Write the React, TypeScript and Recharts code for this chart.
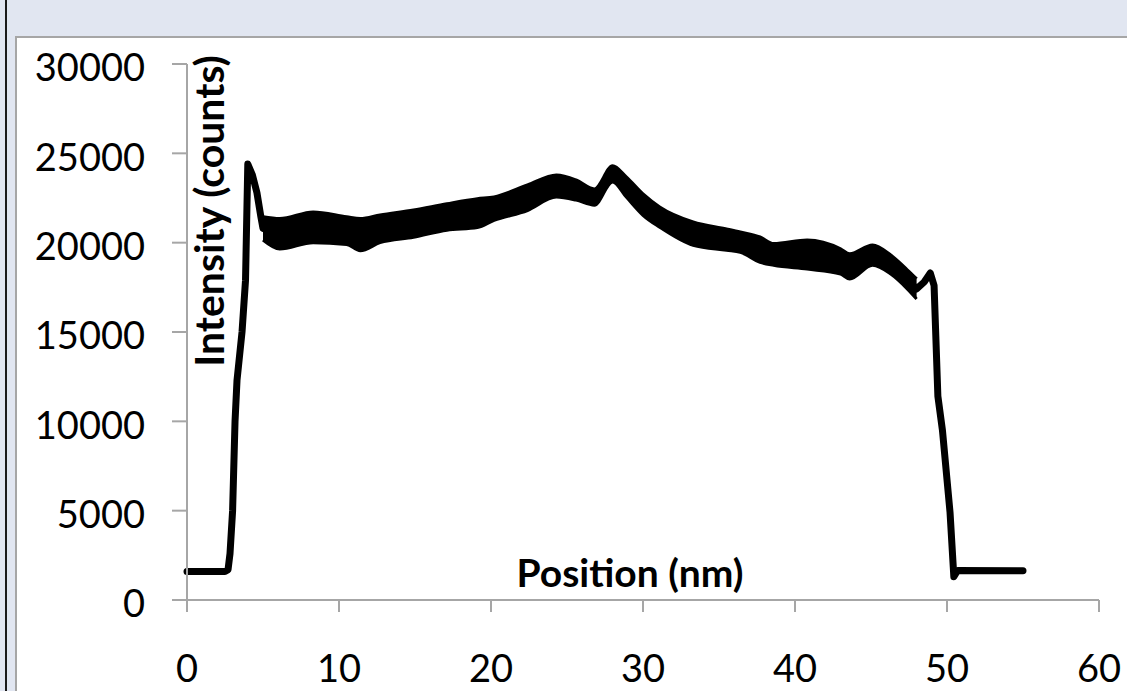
import React from 'react';
import { ComposedChart, Line, Area, XAxis, YAxis } from 'recharts';

// position (nm) of each sample
const positions = [
  0, 2.5, 2.7, 2.83, 3.0, 3.16, 3.29, 3.62, 3.85, 4.0, 4.3, 4.6, 4.85,
  5.0, 6.1, 8.3, 10.5, 11.4, 12.7, 14.9, 17.1, 19.1, 20.2, 22.4, 24.3, 25.6,
  26.8, 28.0, 28.9, 30.0, 31.1, 33.3, 35.5, 36.4, 37.7, 38.6, 40.8, 43.0,
  43.6, 45.1, 46.3, 47.4, 48.0,
  48.5, 48.9, 49.15, 49.4, 49.7, 50.2, 50.45, 50.7, 55.0,
];

// centre of the trace (counts)
const intensity = [
  1600, 1600, 1700, 2600, 5000, 10000, 12300, 15000, 17900, 24400, 23800, 22800, 21500,
  20800, 20500, 20870, 20680, 20450, 20790, 21060, 21430, 21660, 21900, 22520, 23160, 22940,
  22550, 23840, 23110, 22130, 21430, 20500, 20170, 20030, 19610, 19340, 19330, 18950,
  18670, 19300, 18780, 17940, 17410,
  17800, 18300, 17600, 11400, 9500, 4900, 1300, 1650, 1640,
];

// noise envelope of the plateau (lower / upper edge), null outside it
const bandLow: (number | null)[] = [
  null, null, null, null, null, null, null, null, null, null, null, null, null,
  20150, 19650, 20000, 19900, 19550, 20000, 20300, 20700, 20850, 21250, 21800, 22550, 22380,
  22100, 23400, 22550, 21530, 20860, 19850, 19570, 19460, 18900, 18730, 18520, 18240,
  17960, 18730, 18240, 17400, 16850,
  null, null, null, null, null, null, null, null, null,
];
const bandHigh: (number | null)[] = [
  null, null, null, null, null, null, null, null, null, null, null, null, null,
  21450, 21350, 21720, 21450, 21350, 21550, 21830, 22180, 22460, 22560, 23230, 23790, 23510,
  23010, 24300, 23680, 22730, 22000, 21160, 20770, 20600, 20320, 19950, 20150, 19660,
  19380, 19870, 19310, 18470, 17980,
  null, null, null, null, null, null, null, null, null,
];

const xTicks = [0, 10, 20, 30, 40, 50, 60];
const yTicks = [0, 5000, 10000, 15000, 20000, 25000, 30000];

const data = positions.map((p, i) => ({
  position: p,
  intensity: intensity[i],
  band: bandLow[i] == null ? null : [bandLow[i], bandHigh[i]],
}));

const FONT = 'Lato, "Open Sans", sans-serif';
const AXIS = '#A6A6A6';

const XTitle = (props: any) => {
  const vb = props.viewBox;
  return (
    <text x={vb.x + 443} y={vb.y - 13} textAnchor="middle" fontFamily={FONT} fontWeight={700} fontSize={39} fill="#000">
      Position (nm)
    </text>
  );
};

const YTitle = (props: any) => {
  const vb = props.viewBox;
  const cx = 224;
  const cy = vb.y + 147;
  return (
    <text x={cx} y={cy} transform={`rotate(-90, ${cx}, ${cy})`} textAnchor="middle" fontFamily={FONT} fontWeight={700} fontSize={41} fill="#000">
      Intensity (counts)
    </text>
  );
};

export default function App() {
  return (
    <div style={{ position: 'absolute', left: 0, top: 0, width: 1127, height: 691, background: '#E1E6F1', overflow: 'hidden' }}>
      <div style={{ position: 'absolute', left: 5, top: 0, width: 2, height: 691, background: '#1a1a1a' }} />
      <div
        style={{
          position: 'absolute', left: 15, top: 36, right: 0, bottom: 0, background: '#fff',
          borderLeft: `2px solid ${AXIS}`, borderTop: `2px solid ${AXIS}`,
        }}
      />
      <div style={{ position: 'absolute', left: 0, top: 0 }}>
        <ComposedChart width={1127} height={691} data={data} margin={{ top: 64, right: 28, bottom: 0, left: 0 }}>
          <XAxis
            dataKey="position"
            type="number"
            domain={[0, 60]}
            ticks={xTicks}
            interval={0}
            height={91}
            tickSize={12}
            tickMargin={43}
            axisLine={{ stroke: AXIS, strokeWidth: 2 }}
            tickLine={{ stroke: AXIS, strokeWidth: 2 }}
            tick={{ fill: '#000', fontSize: 38, fontFamily: FONT }}
            label={{ content: <XTitle /> }}
          />
          <YAxis
            type="number"
            domain={[0, 30000]}
            ticks={yTicks}
            interval={0}
            width={187}
            tickSize={15}
            tickMargin={27}
            axisLine={{ stroke: AXIS, strokeWidth: 2 }}
            tickLine={{ stroke: AXIS, strokeWidth: 2 }}
            tick={{ fill: '#000', fontSize: 38, fontFamily: FONT, dy: 4 }}
            label={{ content: <YTitle /> }}
          />
          <Area
            dataKey="band"
            type="monotone"
            fill="#000"
            fillOpacity={1}
            stroke="#000"
            strokeWidth={3}
            strokeLinejoin="round"
            isAnimationActive={false}
          />
          <Line
            dataKey="intensity"
            type="linear"
            stroke="#000"
            strokeWidth={7}
            strokeLinejoin="round"
            strokeLinecap="round"
            dot={false}
            isAnimationActive={false}
          />
        </ComposedChart>
      </div>
    </div>
  );
}
